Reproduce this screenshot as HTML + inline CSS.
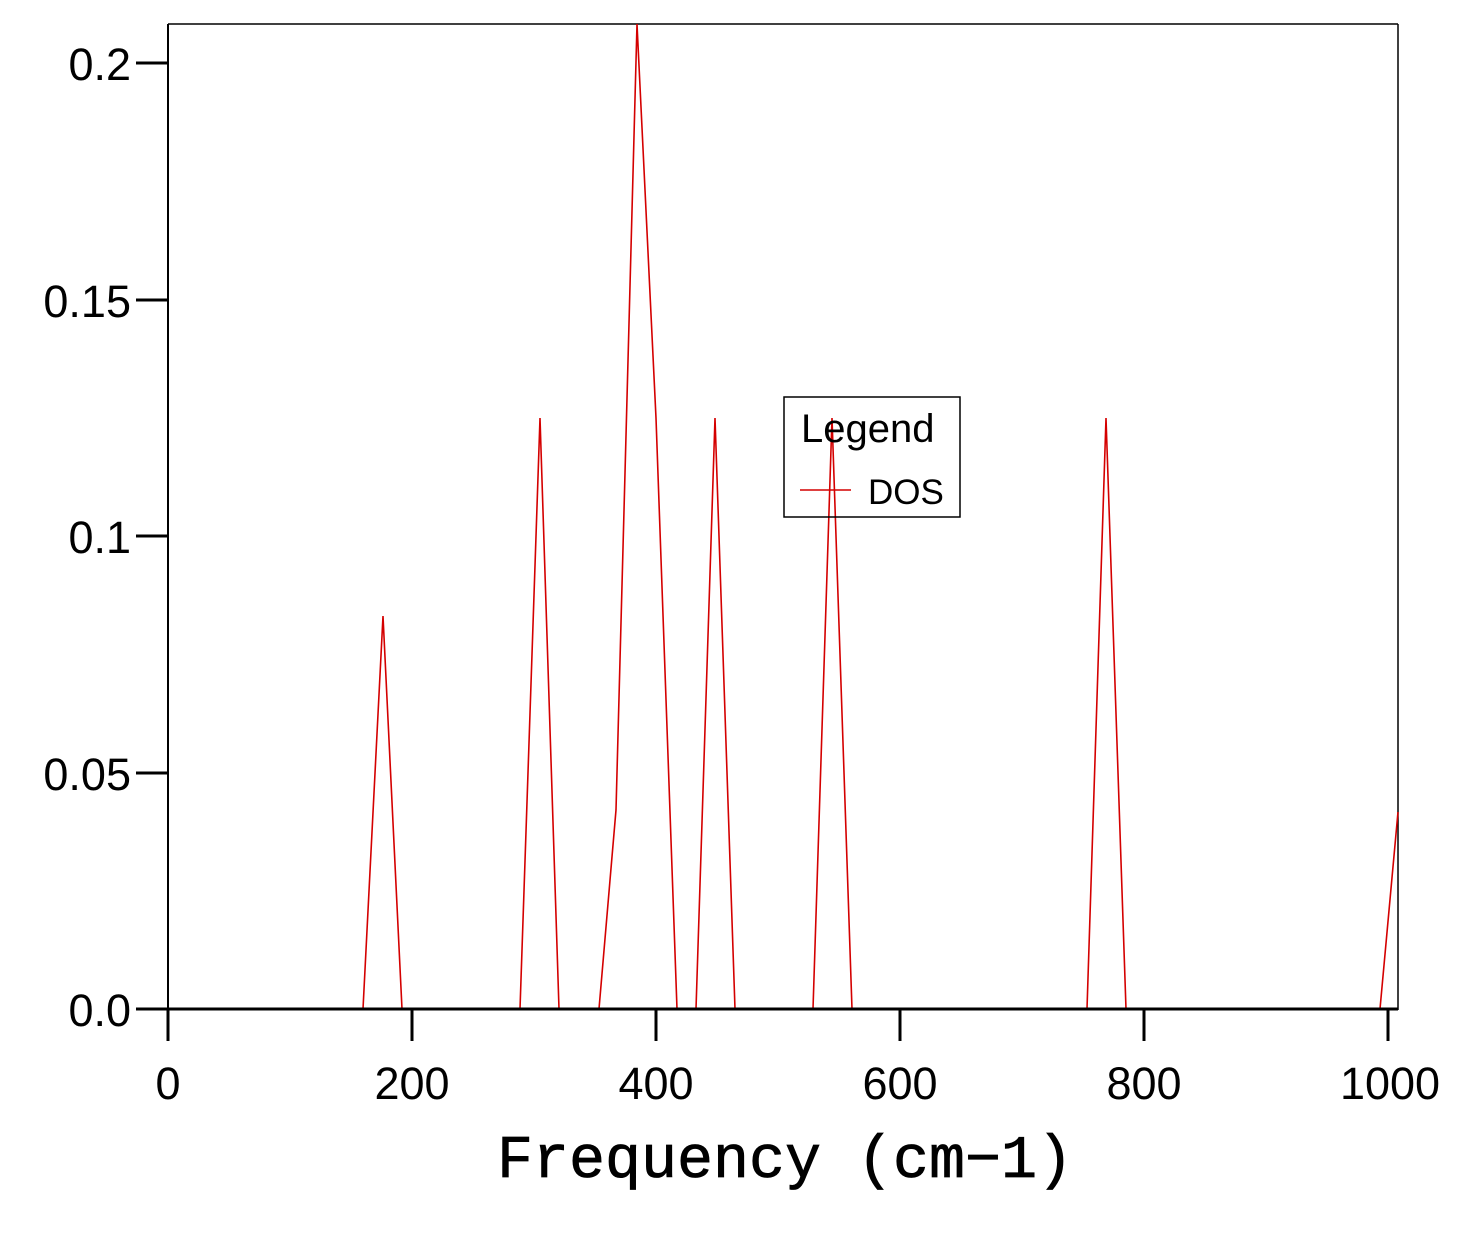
<!DOCTYPE html>
<html><head><meta charset="utf-8"><style>html,body{margin:0;padding:0;background:#fff}</style></head>
<body>
<svg width="1457" height="1229" viewBox="0 0 1457 1229" xmlns="http://www.w3.org/2000/svg">
<rect width="1457" height="1229" fill="#fff"/>
<line x1="168" y1="24" x2="1398" y2="24" stroke="#000" stroke-width="1.5"/>
<line x1="1398" y1="24" x2="1398" y2="1010" stroke="#000" stroke-width="1.5"/>
<line x1="168" y1="24" x2="168" y2="1010" stroke="#000" stroke-width="2"/>
<polyline fill="none" stroke="#d40000" stroke-width="1.6" stroke-linejoin="miter"
 points="168,1009 363,1009 383,616 402,1009 520,1009 540,418 559,1009 599,1009 616,810 637,24 656,418 677,1009 696,1009 715,418 735,1009 813,1009 832,418 852,1009 1087,1009 1106,418 1126,1009 1380,1009 1398,812"/>
<line x1="136" y1="1009" x2="1398" y2="1009" stroke="#000" stroke-width="3"/>
<g stroke="#000" stroke-width="3">
<line x1="168" y1="1009" x2="168" y2="1041"/>
<line x1="412" y1="1009" x2="412" y2="1041"/>
<line x1="656" y1="1009" x2="656" y2="1041"/>
<line x1="900" y1="1009" x2="900" y2="1041"/>
<line x1="1144" y1="1009" x2="1144" y2="1041"/>
<line x1="1388" y1="1009" x2="1388" y2="1041"/>
<line x1="136" y1="773" x2="168" y2="773"/>
<line x1="136" y1="536" x2="168" y2="536"/>
<line x1="136" y1="300" x2="168" y2="300"/>
<line x1="136" y1="63" x2="168" y2="63"/>
</g>
<g font-family="Liberation Sans, sans-serif" font-size="45" fill="#000">
<g text-anchor="middle">
<text x="168" y="1099">0</text>
<text x="412" y="1099">200</text>
<text x="656" y="1099">400</text>
<text x="900" y="1099">600</text>
<text x="1144" y="1099">800</text>
<text x="1390" y="1099">1000</text>
</g>
<g text-anchor="end">
<text x="131" y="1026">0.0</text>
<text x="131" y="790">0.05</text>
<text x="131" y="553">0.1</text>
<text x="131" y="317">0.15</text>
<text x="131" y="80">0.2</text>
</g>
</g>
<text x="785" y="1177" text-anchor="middle" font-family="Liberation Mono, monospace" font-size="60" fill="#000" stroke="#000" stroke-width="0.8">Frequency (cm−1)</text>
<rect x="784" y="397" width="176" height="120" fill="none" stroke="#000" stroke-width="1.5"/>
<text x="801" y="442" font-family="Liberation Sans, sans-serif" font-size="40" fill="#000">Legend</text>
<line x1="800" y1="490" x2="851" y2="490" stroke="#d40000" stroke-width="1.6"/>
<text x="868" y="504" font-family="Liberation Sans, sans-serif" font-size="35" fill="#000">DOS</text>
</svg>
</body></html>
